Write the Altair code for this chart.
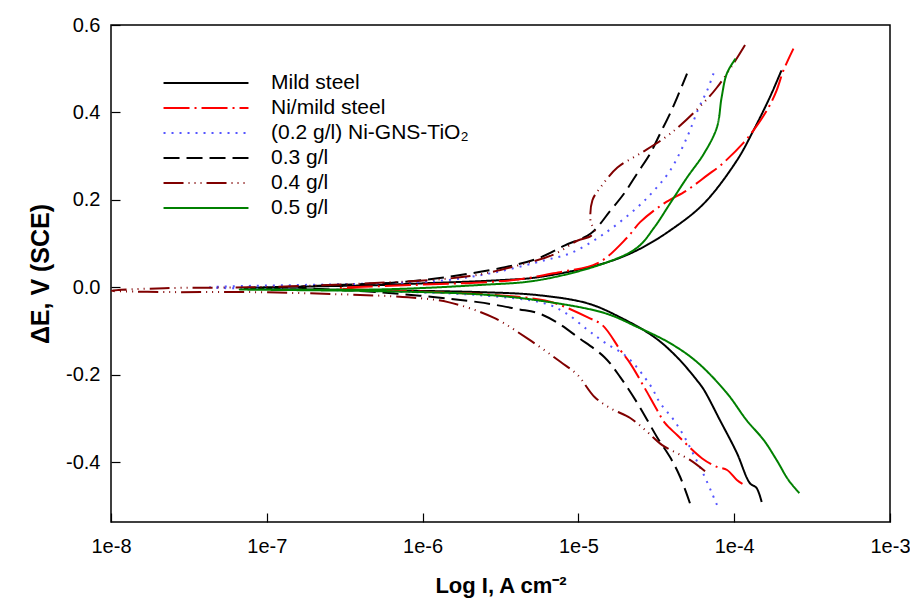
import altair as alt
import pandas as pd

names = ["Mild steel", "Ni/mild steel", "(0.2 g/l) Ni-GNS-TiO\u2082", "0.3 g/l", "0.4 g/l", "0.5 g/l"]
colors = ["#000000", "#FF0000", "#5555FF", "#000000", "#800000", "#008000"]
dashes = [[1, 0], [26, 5, 2, 5], [2, 6], [16, 7], [20, 5, 1, 5, 1, 5, 1, 5], [1, 0]]

# Mild steel
ms_cI = [7.2e-8, 5.2e-7, 2.27e-6, 5.5e-6, 1.15e-5, 1.86e-5, 3.07e-5, 4.3e-5, 5.77e-5, 6.4e-5, 8.1e-5, 1.04e-4, 1.26e-4, 1.39e-4, 1.5e-4]
ms_cE = [-0.002, -0.007, -0.011, -0.018, -0.037, -0.069, -0.114, -0.160, -0.213, -0.235, -0.304, -0.379, -0.448, -0.459, -0.491]
ms_aI = [7.2e-8, 5.2e-7, 1e-6, 3.05e-6, 5.5e-6, 1.46e-5, 2.39e-5, 3.88e-5, 6.4e-5, 1.04e-4, 1.33e-4, 1.69e-4, 2.01e-4]
ms_aE = [-0.002, 0.005, 0.009, 0.016, 0.023, 0.055, 0.085, 0.130, 0.192, 0.290, 0.359, 0.434, 0.496]

# Ni/mild steel
ni_cI = [2.9e-7, 8.5e-7, 3.05e-6, 6.1e-6, 7.7e-6, 1.15e-5, 1.43e-5, 1.86e-5, 2.15e-5, 2.65e-5, 3.2e-5, 3.6e-5, 4.3e-5, 6.2e-5, 7.75e-5, 9.0e-5, 1.04e-4, 1.13e-4]
ni_cE = [-0.002, -0.009, -0.018, -0.030, -0.041, -0.069, -0.087, -0.144, -0.174, -0.229, -0.281, -0.311, -0.338, -0.391, -0.411, -0.418, -0.441, -0.450]
ni_aI = [2.9e-7, 8.5e-7, 3.7e-6, 7.4e-6, 1.33e-5, 2.06e-5, 2.49e-5, 3.55e-5, 4.98e-5, 6.7e-5, 8.3e-5, 1.15e-4, 1.33e-4, 1.66e-4, 1.87e-4, 2.07e-4, 2.4e-4]
ni_aE = [-0.002, 0.005, 0.016, 0.034, 0.055, 0.114, 0.149, 0.192, 0.222, 0.256, 0.281, 0.331, 0.359, 0.411, 0.450, 0.496, 0.546]

# 0.2 g/l
g2_cI = [4.3e-8, 5.2e-7, 2.27e-6, 6.1e-6, 8.3e-6, 1.15e-5, 1.47e-5, 2.06e-5, 2.89e-5, 3.35e-5, 4.1e-5, 4.84e-5, 5.6e-5, 6.4e-5, 7.2e-5, 7.75e-5]
g2_cE = [0.0, -0.009, -0.018, -0.037, -0.059, -0.098, -0.126, -0.160, -0.224, -0.265, -0.304, -0.345, -0.389, -0.430, -0.471, -0.498]
g2_aI = [4.3e-8, 5.2e-7, 1.4e-6, 2.92e-6, 6.1e-6, 8.9e-6, 1.47e-5, 2.39e-5, 3.07e-5, 3.88e-5, 4.98e-5, 5.9e-5, 6.7e-5, 7.4e-5]
g2_aE = [0.0, 0.009, 0.016, 0.034, 0.062, 0.078, 0.123, 0.183, 0.222, 0.267, 0.343, 0.409, 0.450, 0.491]

# 0.3 g/l
g3_cI = [1.6e-7, 5.2e-7, 2.27e-6, 4.1e-6, 5.5e-6, 7.4e-6, 9.9e-6, 1.47e-5, 1.86e-5, 2.39e-5, 2.77e-5, 3.2e-5, 3.88e-5, 4.5e-5, 5.2e-5]
g3_cE = [0.0, -0.011, -0.034, -0.050, -0.059, -0.082, -0.114, -0.160, -0.206, -0.265, -0.304, -0.343, -0.389, -0.434, -0.494]
g3_aI = [1.6e-7, 6.7e-7, 1.4e-6, 3.38e-6, 5.5e-6, 8.2e-6, 1.2e-5, 1.61e-5, 1.97e-5, 2.39e-5, 2.89e-5, 3.35e-5, 3.88e-5, 4.3e-5, 4.98e-5]
g3_aE = [0.0, 0.011, 0.023, 0.046, 0.066, 0.096, 0.123, 0.176, 0.215, 0.261, 0.306, 0.352, 0.398, 0.434, 0.489]

# 0.4 g/l
g4_cI = [1e-8, 2.4e-8, 7.7e-8, 2.9e-7, 8.1e-7, 1.46e-6, 2.83e-6, 4.7e-6, 7.7e-6, 9.9e-6, 1.27e-5, 1.61e-5, 2.15e-5, 2.77e-5, 3.45e-5, 5.2e-5, 6.5e-5]
g4_cE = [-0.008, -0.011, -0.011, -0.016, -0.023, -0.034, -0.069, -0.117, -0.171, -0.201, -0.251, -0.277, -0.299, -0.331, -0.361, -0.395, -0.421]
g4_aI = [1e-8, 2.2e-8, 7.7e-8, 3.36e-7, 1.96e-6, 4.1e-6, 6.95e-6, 9.9e-6, 1.2e-5, 1.27e-5, 1.2e-5, 1.23e-5, 1.39e-5, 1.78e-5, 2.49e-5, 3.55e-5, 4.5e-5, 6.4e-5, 7.75e-5, 9.9e-5, 1.2e-4]
g4_aE = [-0.008, -0.002, 0.0, 0.007, 0.025, 0.050, 0.075, 0.107, 0.117, 0.130, 0.149, 0.199, 0.229, 0.274, 0.306, 0.341, 0.370, 0.423, 0.457, 0.512, 0.560]

# 0.5 g/l
g5_cI = [6.7e-8, 5.2e-7, 2.27e-6, 5.5e-6, 1.47e-5, 2.39e-5, 3.88e-5, 5.77e-5, 8.97e-5, 1.2e-4, 1.55e-4, 1.87e-4, 2.23e-4, 2.62e-4]
g5_cE = [-0.005, -0.009, -0.016, -0.030, -0.059, -0.091, -0.128, -0.171, -0.242, -0.304, -0.350, -0.395, -0.441, -0.471]
g5_aI = [6.7e-8, 5.2e-7, 2.27e-6, 5.5e-6, 1.47e-5, 2.39e-5, 3.07e-5, 3.88e-5, 4.98e-5, 6.4e-5, 7.75e-5, 8.3e-5, 8.97e-5, 1.02e-4]
g5_aE = [-0.005, -0.005, 0.005, 0.016, 0.055, 0.091, 0.137, 0.192, 0.251, 0.306, 0.366, 0.434, 0.489, 0.523]

x_ticks = [1e-8, 1e-7, 1e-6, 1e-5, 1e-4, 1e-3]
y_ticks = [-0.4, -0.2, 0.0, 0.2, 0.4, 0.6]

series = [
    (names[0], ms_cI, ms_cE, ms_aI, ms_aE),
    (names[1], ni_cI, ni_cE, ni_aI, ni_aE),
    (names[2], g2_cI, g2_cE, g2_aI, g2_aE),
    (names[3], g3_cI, g3_cE, g3_aI, g3_aE),
    (names[4], g4_cI, g4_cE, g4_aI, g4_aE),
    (names[5], g5_cI, g5_cE, g5_aI, g5_aE),
]

rows = []
for name, cI, cE, aI, aE in series:
    k = 0
    for i, e in reversed(list(zip(cI[1:], cE[1:]))):
        rows.append({"series": name, "I": i, "E": e, "k": k})
        k += 1
    for i, e in zip(aI, aE):
        rows.append({"series": name, "I": i, "E": e, "k": k})
        k += 1
df = pd.DataFrame(rows)

FONT = "Liberation Sans"

legend = alt.Legend(
    title=None, orient="none", legendX=83, legendY=46, padding=0,
    symbolType="M-4,0H4", symbolSize=451, symbolStrokeWidth=2,
    labelFont=FONT, labelFontSize=21, labelColor="#000000",
    labelOffset=53, rowPadding=3, labelLimit=400,
)

chart = alt.Chart(df).mark_line(strokeWidth=2, clip=True, interpolate="catmull-rom").encode(
    x=alt.X("I:Q",
            scale=alt.Scale(type="log", domain=[1e-8, 1e-3], nice=False),
            axis=alt.Axis(values=x_ticks, labelExpr="'1e' + round(log(datum.value)/LN10)",
                          title="Log I, A cm\u207B\u00B2", titleFontSize=22, domain=False, grid=False,
                          tickSize=9, offset=-9, labelPadding=14, labelFlush=False,
                          labelOverlap=False, titlePadding=19)),
    y=alt.Y("E:Q",
            scale=alt.Scale(domain=[-0.537, 0.6], nice=False, zero=False),
            axis=alt.Axis(values=y_ticks, format=".1f",
                          labelExpr="replace(datum.label, '\u2212', '-')",
                          title="\u0394E, V (SCE)", titleFontSize=25,
                          domain=False, grid=False, tickSize=9, offset=-9,
                          labelPadding=11, titlePadding=12, labelFlush=False)),
    color=alt.Color("series:N", scale=alt.Scale(domain=names, range=colors), sort=names, legend=legend),
    strokeDash=alt.StrokeDash("series:N", scale=alt.Scale(domain=names, range=dashes), sort=names, legend=legend),
    order=alt.Order("k:Q"),
).properties(
    width=779, height=497,
    autosize=alt.AutoSizeParams(type="none"),
    padding={"left": 103, "top": 17, "right": 20, "bottom": 78},
).configure_view(
    stroke="#000000", strokeWidth=1.5
).configure_axis(
    labelFont=FONT, labelFontSize=20, labelColor="#000000",
    titleFont=FONT, titleFontWeight="bold", titleColor="#000000",
    tickColor="#000000", tickWidth=1.2,
)

chart.save("out.html", embed_options={"renderer": "svg", "actions": False})
